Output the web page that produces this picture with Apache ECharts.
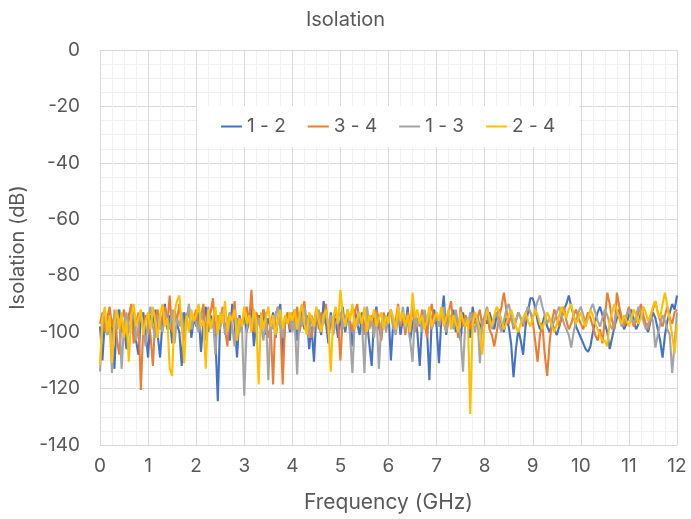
<!DOCTYPE html>
<html>
<head>
<meta charset="utf-8">
<script src="https://cdn.jsdelivr.net/npm/echarts@6/dist/echarts.min.js"></script>
<style>
  html, body { margin: 0; padding: 0; background: #fff; }
  #chart { width: 691px; height: 519px; }
</style>
</head>
<body>
<div id="chart"></div>
<script>
// frequency sample points (GHz)
var freq = [
  0,0.05,0.1,0.15,0.2,0.25,0.3,0.35,0.4,0.45,0.5,0.55,0.6,0.65,0.7,0.75,0.8,0.85,0.9,0.95,
  1,1.05,1.1,1.15,1.2,1.25,1.3,1.35,1.4,1.45,1.5,1.55,1.6,1.65,1.7,1.75,1.8,1.85,1.9,1.95,
  2,2.05,2.1,2.15,2.2,2.25,2.3,2.35,2.4,2.45,2.5,2.55,2.6,2.65,2.7,2.75,2.8,2.85,2.9,2.95,
  3,3.05,3.1,3.15,3.2,3.25,3.3,3.35,3.4,3.45,3.5,3.55,3.6,3.65,3.7,3.75,3.8,3.85,3.9,3.95,
  4,4.05,4.1,4.15,4.2,4.25,4.3,4.35,4.4,4.45,4.5,4.55,4.6,4.65,4.7,4.75,4.8,4.85,4.9,4.95,
  5,5.05,5.1,5.15,5.2,5.25,5.3,5.35,5.4,5.45,5.5,5.55,5.6,5.65,5.7,5.75,5.8,5.85,5.9,5.95,
  6,6.05,6.1,6.15,6.2,6.25,6.3,6.35,6.4,6.45,6.5,6.55,6.6,6.65,6.7,6.75,6.8,6.85,6.9,6.95,
  7,7.05,7.1,7.15,7.2,7.25,7.3,7.35,7.4,7.45,7.5,7.55,7.6,7.65,7.7,7.75,7.8,7.85,7.9,7.95,
  8,8.05,8.1,8.15,8.2,8.25,8.3,8.35,8.4,8.45,8.5,8.55,8.6,8.65,8.7,8.75,8.8,8.85,8.9,8.95,
  9,9.05,9.1,9.15,9.2,9.25,9.3,9.35,9.4,9.45,9.5,9.55,9.6,9.65,9.7,9.75,9.8,9.85,9.9,9.95,
  10,10.05,10.1,10.15,10.2,10.25,10.3,10.35,10.4,10.45,10.5,10.55,10.6,10.65,10.7,10.75,10.8,10.85,10.9,10.95,
  11,11.05,11.1,11.15,11.2,11.25,11.3,11.35,11.4,11.45,11.5,11.55,11.6,11.65,11.7,11.75,11.8,11.85,11.9,11.95,
  12
];

var s12 = [
  -98,-110,-96,-101,-93,-99,-113,-95,-92,-100,-97,-106,-94,-91,-98,-103,-108,-95,-93,-100,
  -109,-94,-97,-92,-101,-109,-96,-90,-99,-94,-104,-92,-97,-100,-112,-93,-96,-91,-102,-95,
  -98,-93,-107,-96,-91,-100,-94,-97,-102,-124.5,-95,-92,-99,-96,-103,-90,-97,-109,-94,-98,
  -93,-100,-96,-91,-105,-97,-94,-99,-92,-101,-95,-98,-93,-102,-96,-90,-109,-97,-94,-100,
  -95,-92,-103,-97,-91,-99,-94,-106,-98,-110.5,-93,-96,-101,-89,-97,-104,-93,-99,-95,-102,
  -96,-91,-100,-94,-98,-105,-92,-97,-101,-93,-99,-96,-104,-112,-95,-91,-98,-102,-94,-97,
  -93,-110,-96,-99,-92,-101,-95,-98,-91,-103,-97,-94,-100,-112,-96,-93,-99,-117,-95,-92,
  -98,-111,-95,-87,-101,-94,-97,-92,-100,-96,-103,-93,-98,-95,-102,-91,-97,-94,-99,-96,
  -95,-97,-93,-96,-99,-94,-92,-97,-100,-95,-98,-104,-116,-106,-99,-103,-108,-98,-93,-88,
  -88,-91,-96,-99,-97,-94,-98,-100,-97,-99,-101,-98,-95,-92,-90,-87,-91,-94,-98,-100,
  -102,-104,-106,-107,-105,-100,-96,-93,-91,-94,-97,-100,-106,-102,-98,-95,-92,-96,-99,-97,
  -94,-92,-96,-99,-97,-93,-95,-98,-100,-96,-93,-95,-99,-103,-109,-101,-96,-93,-90,-92,
  -87
];

var s34 = [
  -97,-93,-100,-95,-91,-98,-94,-102,-108,-96,-92,-99,-95,-90,-104,-97,-93,-120.5,-98,-94,
  -96,-101,-112,-95,-92,-99,-94,-91,-97,-87,-100,-93,-96,-90,-98,-103,-94,-92,-99,-95,
  -92,-98,-95,-90,-101,-96,-93,-88,-100,-94,-97,-91,-99,-105,-93,-96,-89,-102,-95,-98,
  -94,-91,-97,-85,-100,-93,-96,-99,-92,-95,-102,-98,-118.5,-94,-91,-97,-118.5,-96,-93,-99,
  -93,-97,-91,-100,-95,-89,-98,-94,-102,-96,-92,-99,-93,-97,-90,-101,-95,-98,-92,-96,
  -110,-94,-98,-92,-96,-100,-93,-90,-97,-95,-101,-91,-98,-94,-99,-92,-96,-103,-93,-97,
  -95,-92,-99,-96,-90,-98,-94,-101,-93,-97,-91,-100,-95,-98,-92,-96,-102,-94,-90,-97,
  -94,-98,-92,-96,-100,-93,-89,-97,-95,-102,-91,-98,-94,-96,-99,-93,-97,-95,-92,-98,
  -96,-93,-99,-101,-105,-100,-95,-91,-86,-92,-97,-94,-99,-96,-93,-95,-98,-94,-91,-93,
  -96,-103,-110.5,-101,-97,-108,-115.5,-104,-96,-92,-95,-98,-94,-91,-96,-99,-97,-94,-92,-95,
  -97,-99,-96,-93,-95,-98,-101,-103,-99,-104,-95,-86,-90,-96,-99,-86,-91,-95,-98,-94,
  -91,-95,-98,-96,-93,-90,-94,-97,-99,-95,-92,-89,-93,-96,-98,-94,-91,-95,-97,-93,
  -92
];

var s13 = [
  -114,-98,-94,-101,-96,-114.5,-92,-99,-95,-113,-97,-93,-100,-96,-91,-103,-98,-94,-99,-105,
  -95,-91,-98,-102,-94,-97,-100,-93,-96,-99,-92,-104,-95,-98,-93,-101,-96,-90,-99,-94,
  -97,-100,-93,-96,-103,-91,-98,-95,-108,-94,-99,-92,-101,-96,-93,-98,-105,-95,-100,-97,
  -122.5,-99,-94,-97,-92,-100,-95,-98,-103,-93,-117,-96,-99,-94,-91,-98,-102,-95,-97,-93,
  -100,-96,-115,-93,-98,-91,-97,-102,-94,-99,-95,-92,-100,-96,-93,-98,-94,-101,-97,-95,
  -93,-99,-96,-92,-101,-114.5,-95,-98,-94,-97,-114.5,-91,-99,-96,-102,-93,-113,-97,-94,-100,
  -95,-92,-98,-101,-94,-97,-91,-99,-96,-103,-110.5,-93,-98,-95,-100,-92,-97,-94,-99,-96,
  -93,-98,-95,-91,-100,-96,-94,-99,-92,-97,-102,-114,-95,-98,-93,-96,-100,-94,-111,-97,
  -94,-91,-96,-99,-95,-93,-97,-100,-96,-92,-90,-94,-98,-96,-93,-95,-97,-94,-91,-93,
  -95,-92,-89,-87,-91,-94,-97,-95,-98,-96,-93,-91,-94,-97,-99,-101,-105.5,-100,-96,-93,
  -91,-94,-97,-95,-92,-90,-93,-96,-98,-95,-92,-94,-97,-99,-96,-93,-95,-98,-96,-94,
  -92,-95,-97,-94,-91,-93,-96,-99,-97,-94,-96,-105.5,-101,-97,-94,-96,-99,-101,-114.5,-104,
  -93
];

var s24 = [
  -111.5,-95,-91,-100,-94,-111,-97,-92,-99,-93,-102,-96,-110.5,-94,-90,-98,-95,-92,-101,-96,
  -93,-99,-91,-96,-102,-94,-90,-98,-95,-113,-115.5,-93,-89,-87,-97,-111,-94,-100,-92,-96,
  -94,-90,-98,-96,-113,-92,-99,-95,-91,-101,-93,-97,-89,-100,-94,-96,-92,-103,-95,-98,
  -91,-97,-94,-100,-92,-96,-118.5,-93,-99,-95,-91,-98,-94,-101,-96,-92,-99,-94,-97,-93,
  -96,-92,-99,-94,-90,-97,-101,-93,-95,-98,-91,-96,-100,-94,-92,-98,-114,-95,-91,-97,
  -85,-94,-98,-92,-96,-90,-99,-95,-93,-97,-91,-100,-94,-96,-92,-98,-95,-93,-99,-94,
  -97,-92,-95,-99,-91,-96,-93,-98,-94,-100,-86,-95,-92,-97,-94,-99,-96,-91,-98,-95,
  -93,-96,-91,-98,-95,-92,-99,-94,-97,-100,-93,-96,-98,-95,-129,-97,-93,-96,-99,-108,
  -97,-92,-95,-98,-94,-91,-93,-96,-99,-97,-94,-92,-95,-98,-100,-97,-95,-93,-96,-98,
  -95,-92,-94,-97,-99,-96,-93,-95,-98,-100,-97,-94,-91,-93,-95,-92,-90,-94,-97,-95,
  -93,-96,-98,-95,-92,-94,-97,-99,-101,-103,-103,-105,-96,-93,-90,-92,-95,-97,-94,-96,
  -98,-95,-92,-94,-97,-95,-91,-93,-96,-94,-91,-89,-93,-95,-90,-86,-91,-96,-101,-107.5,
  -97
];

var seriesNames = ['1 - 2', '3 - 4', '1 - 3', '2 - 4'];
var seriesData = [s12, s34, s13, s24];
var seriesColors = ['#4472C4', '#ED7D31', '#A5A5A5', '#FFC000'];

function pairs(vals) {
  var out = [];
  for (var i = 0; i < vals.length; i++) out.push([freq[i], vals[i]]);
  return out;
}

var chart = echarts.init(document.getElementById('chart'));
var textColor = '#595959';
var font = 'Inter, "Noto Sans", sans-serif';

var series = [];
for (var k = 0; k < seriesNames.length; k++) {
  series.push({
    name: seriesNames[k],
    type: 'line',
    symbol: 'none',
    animation: false,
    lineStyle: { color: seriesColors[k], width: 2.1 },
    itemStyle: { color: seriesColors[k] },
    data: pairs(seriesData[k])
  });
}

var option = {
  backgroundColor: '#fff',
  title: {
    text: 'Isolation',
    left: 'center',
    top: 5,
    textStyle: { color: textColor, fontSize: 20, fontWeight: 'normal', fontFamily: font }
  },
  legend: {
    data: seriesNames,
    top: 106,
    left: 197,
    backgroundColor: '#fff',
    padding: [11, 24, 11, 24],
    itemGap: 22,
    itemWidth: 21,
    itemHeight: 2,
    icon: 'rect',
    textStyle: { color: textColor, fontSize: 19, fontFamily: font }
  },
  grid: { left: 100, right: 14, top: 50, bottom: 74 },
  xAxis: {
    type: 'value',
    min: 0,
    max: 12,
    interval: 1,
    name: 'Frequency (GHz)',
    nameLocation: 'middle',
    nameGap: 47,
    nameTextStyle: { color: textColor, fontSize: 21, fontFamily: font },
    axisLine: { show: true, lineStyle: { color: '#d9d9d9' } },
    axisTick: { show: false },
    axisLabel: { color: textColor, fontSize: 19, margin: 12, fontFamily: font },
    splitLine: { show: true, lineStyle: { color: '#d9d9d9' } },
    minorTick: { show: false, splitNumber: 4 },
    minorSplitLine: { show: true, lineStyle: { color: '#f0f0f0' } }
  },
  yAxis: {
    type: 'value',
    min: -140,
    max: 0,
    interval: 20,
    name: 'Isolation (dB)',
    nameLocation: 'middle',
    nameGap: 72,
    nameTextStyle: { color: textColor, fontSize: 20, fontFamily: font },
    axisLine: { show: false },
    axisTick: { show: false },
    axisLabel: { color: textColor, fontSize: 19, margin: 20, fontFamily: font },
    splitLine: { show: true, lineStyle: { color: '#d9d9d9' } },
    minorTick: { show: false, splitNumber: 4 },
    minorSplitLine: { show: true, lineStyle: { color: '#f0f0f0' } }
  },
  series: series
};
chart.setOption(option);
</script>
</body>
</html>
